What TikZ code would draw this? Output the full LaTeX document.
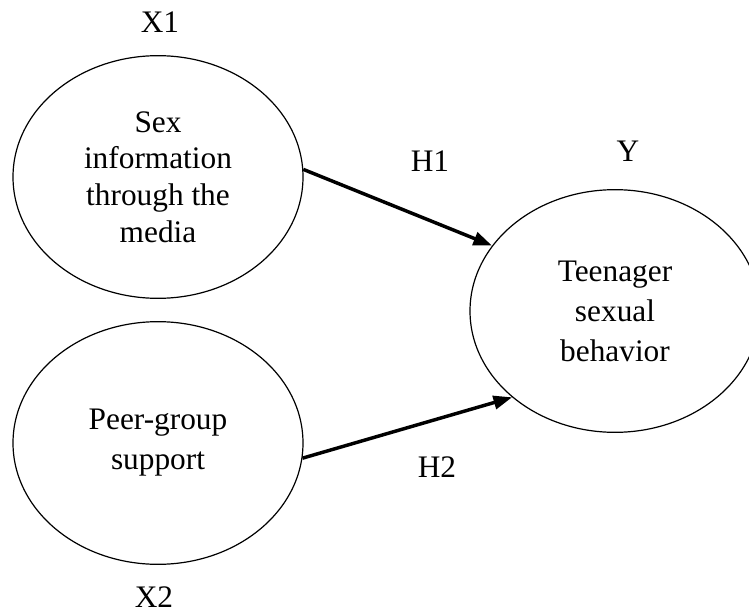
\documentclass[tikz,border=0pt]{standalone}
\usepackage{fontspec}
\setmainfont{Liberation Serif}
\usetikzlibrary{shapes.geometric,arrows.meta}
\tikzstyle{bag} = [ellipse,draw,line width=0.9pt,align=center,inner sep=0pt,
  minimum width=217.5pt,minimum height=182pt,font=\fontsize{23.5}{30}\selectfont]
\tikzstyle{tag} = [font=\fontsize{23.5}{28}\selectfont]
\tikzstyle{link} = [-{Triangle[length=14pt,width=10pt]},line width=2.6pt]

\begin{document}
\begin{tikzpicture}[x=0.75pt,y=-0.75pt]
  \useasboundingbox (0,0) rectangle (749,613);
  \node [bag,font=\fontsize{23.5}{27.5}\selectfont] (x1) at (158,177)
    {Sex\\ information\\ through the\\ media};
  \node [bag] (x2) at (158,443) {Peer-group\\ support};
  \node [bag] (y) at (615,311) {Teenager\\ sexual\\ behavior};
  \node [tag] (x1lab) at (160,22) {X1};
  \node [tag] (x2lab) at (154,597) {X2};
  \node [tag] (ylab) at (628,151) {Y};
  \node [tag] (h1) at (430,161) {H1};
  \node [tag] (h2) at (437,467) {H2};
  \draw [link] (x1.3) -- (y.152);
  \draw [link] (x2.-6) -- (y.-140);
\end{tikzpicture}
\end{document}
